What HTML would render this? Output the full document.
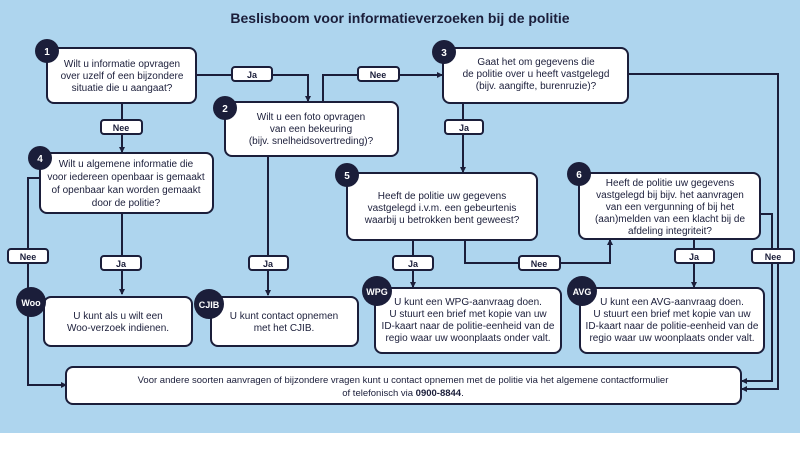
<!DOCTYPE html>
<html><head><meta charset="utf-8"><style>
body{margin:0;width:800px;height:450px;overflow:hidden;background:#fff;font-family:"Liberation Sans",sans-serif}
svg{display:block}
text{font-family:"Liberation Sans",sans-serif;fill:#1b1e3a}
</style></head><body>
<svg width="800" height="450" viewBox="0 0 800 450" xmlns="http://www.w3.org/2000/svg">
<defs><marker id="a" markerWidth="6" markerHeight="6" refX="5" refY="3" orient="auto" markerUnits="userSpaceOnUse"><path d="M0,0 L6,3 L0,6z" fill="#1b1e3a"/></marker></defs>
<rect x="0" y="0" width="800" height="433" fill="#aed5ee"/>
<text x="400" y="23" font-size="14" font-weight="bold" text-anchor="middle">Beslisboom voor informatieverzoeken bij de politie</text>
<g fill="none" stroke="#1b1e3a" stroke-width="2">
<path d="M196,75 H308 V101" marker-end="url(#a)"/>
<path d="M323,102 V75 H442" marker-end="url(#a)"/>
<path d="M122,103 V152" marker-end="url(#a)"/>
<path d="M40,178 H28 V385 H66" marker-end="url(#a)"/>
<path d="M122,213 V294" marker-end="url(#a)"/>
<path d="M268,156 V295" marker-end="url(#a)"/>
<path d="M463,103 V172" marker-end="url(#a)"/>
<path d="M628,74 H778 V389 H742" marker-end="url(#a)"/>
<path d="M760,214 H772 V381 H742" marker-end="url(#a)"/>
<path d="M413,240 V287" marker-end="url(#a)"/>
<path d="M465,240 V263 H610 V240" marker-end="url(#a)"/>
<path d="M694,239 V287" marker-end="url(#a)"/>
</g>
<g fill="#fff" stroke="#1b1e3a" stroke-width="2">
<rect x="47" y="48" width="149" height="55" rx="7"/>
<rect x="225" y="102" width="173" height="54" rx="7"/>
<rect x="443" y="48" width="185" height="55" rx="7"/>
<rect x="40" y="153" width="173" height="60" rx="7"/>
<rect x="347" y="173" width="190" height="67" rx="7"/>
<rect x="579" y="173" width="181" height="66" rx="7"/>
<rect x="44" y="297" width="148" height="49" rx="7"/>
<rect x="211" y="297" width="147" height="49" rx="7"/>
<rect x="375" y="288" width="186" height="65" rx="7"/>
<rect x="580" y="288" width="184" height="65" rx="7"/>
<rect x="66" y="367" width="675" height="37" rx="7"/>
<rect x="232" y="67" width="40" height="14" rx="3"/>
<rect x="358" y="67" width="41" height="14" rx="3"/>
<rect x="101" y="120" width="41" height="14" rx="3"/>
<rect x="445" y="120" width="38" height="14" rx="3"/>
<rect x="8" y="249" width="40" height="14" rx="3"/>
<rect x="101" y="256" width="40" height="14" rx="3"/>
<rect x="249" y="256" width="39" height="14" rx="3"/>
<rect x="393" y="256" width="40" height="14" rx="3"/>
<rect x="519" y="256" width="41" height="14" rx="3"/>
<rect x="675" y="249" width="39" height="14" rx="3"/>
<rect x="752" y="249" width="42" height="14" rx="3"/>
</g>
<g fill="#1b1e3a">
<circle cx="47" cy="51" r="12"/><circle cx="225" cy="108" r="12"/><circle cx="444" cy="52" r="12"/>
<circle cx="40" cy="158" r="12"/><circle cx="347" cy="175" r="12"/><circle cx="579" cy="174" r="12"/>
<circle cx="31" cy="302" r="15"/><circle cx="209" cy="304" r="15"/><circle cx="377" cy="291" r="15"/><circle cx="582" cy="291" r="15"/>
</g>
<g font-size="10" font-weight="bold" text-anchor="middle">
<text x="47" y="55" style="fill:#fff">1</text><text x="225" y="112" style="fill:#fff">2</text><text x="444" y="56" style="fill:#fff">3</text>
<text x="40" y="162" style="fill:#fff">4</text><text x="347" y="179" style="fill:#fff">5</text><text x="579" y="178" style="fill:#fff">6</text>
<text x="31" y="306" font-size="9" style="fill:#fff">Woo</text><text x="209" y="308" font-size="9" style="fill:#fff">CJIB</text>
<text x="377" y="295" font-size="9" style="fill:#fff">WPG</text><text x="582" y="295" font-size="9" style="fill:#fff">AVG</text>
</g>
<g font-size="9" font-weight="bold" text-anchor="middle">
<text x="252" y="78">Ja</text><text x="378" y="78">Nee</text><text x="121" y="131">Nee</text><text x="464" y="131">Ja</text>
<text x="28" y="260">Nee</text><text x="121" y="267">Ja</text><text x="268" y="267">Ja</text><text x="413" y="267">Ja</text>
<text x="539" y="267">Nee</text><text x="694" y="260">Ja</text><text x="773" y="260">Nee</text>
</g>
<g font-size="10" text-anchor="middle">
<text x="122" y="67">Wilt u informatie opvragen</text><text x="122" y="79">over uzelf of een bijzondere</text><text x="122" y="91">situatie die u aangaat?</text>
<text x="311" y="120">Wilt u een foto opvragen</text><text x="311" y="132">van een bekeuring</text><text x="311" y="144">(bijv. snelheidsovertreding)?</text>
<text x="536" y="65">Gaat het om gegevens die</text><text x="536" y="77">de politie over u heeft vastgelegd</text><text x="536" y="89">(bijv. aangifte, burenruzie)?</text>
<text x="126" y="167">Wilt u algemene informatie die</text><text x="126" y="180">voor iedereen openbaar is gemaakt</text><text x="126" y="193">of openbaar kan worden gemaakt</text><text x="126" y="206">door de politie?</text>
<text x="442" y="199">Heeft de politie uw gegevens</text><text x="442" y="211">vastgelegd i.v.m. een gebeurtenis</text><text x="442" y="223">waarbij u betrokken bent geweest?</text>
<text x="670" y="186">Heeft de politie uw gegevens</text><text x="670" y="198">vastgelegd bij bijv. het aanvragen</text><text x="670" y="210">van een vergunning of bij het</text><text x="670" y="222">(aan)melden van een klacht bij de</text><text x="670" y="234">afdeling integriteit?</text>
<text x="118" y="319">U kunt als u wilt een</text><text x="118" y="331">Woo-verzoek indienen.</text>
<text x="284" y="319">U kunt contact opnemen</text><text x="284" y="331">met het CJIB.</text>
<text x="468" y="305">U kunt een WPG-aanvraag doen.</text><text x="468" y="317">U stuurt een brief met kopie van uw</text><text x="468" y="329">ID-kaart naar de politie-eenheid van de</text><text x="468" y="341">regio waar uw woonplaats onder valt.</text>
<text x="672" y="305">U kunt een AVG-aanvraag doen.</text><text x="672" y="317">U stuurt een brief met kopie van uw</text><text x="672" y="329">ID-kaart naar de politie-eenheid van de</text><text x="672" y="341">regio waar uw woonplaats onder valt.</text>
<text x="403" y="383" font-size="9.5">Voor andere soorten aanvragen of bijzondere vragen kunt u contact opnemen met de politie via het algemene contactformulier</text>
<text x="403" y="396" font-size="9.5">of telefonisch via <tspan font-weight="bold">0900-8844</tspan>.</text>
</g>
</svg>
</body></html>
